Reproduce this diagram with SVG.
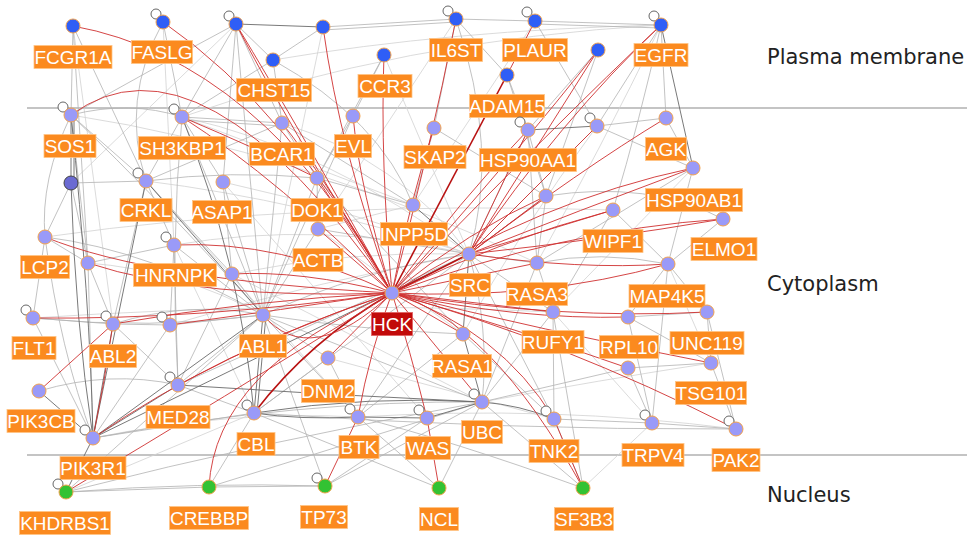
<svg xmlns="http://www.w3.org/2000/svg" width="974" height="536" viewBox="0 0 974 536">
<style>
.bg{fill:#fff}
.sep{stroke:#8a8a8a;stroke-width:1.2}
.reg{font-family:"DejaVu Sans",sans-serif;font-size:21px;fill:#222}
path{fill:none}
.g{stroke:#b2b2b2;stroke-width:0.8}
.gl{stroke:#d2d2d2;stroke-width:0.8}
.gd{stroke:#6a6a6a;stroke-width:0.9}
.r{stroke:#cf3030;stroke-width:0.9}
.rd{stroke:#b81212;stroke-width:1.6}
.lp{fill:#fff;stroke:#666;stroke-width:1}
.nb{fill:#2f5ef6;stroke:#f3a24c;stroke-width:1}
.np{fill:#9a9af8;stroke:#f3a24c;stroke-width:1}
.nd{fill:#6a6ad2;stroke:#444;stroke-width:1}
.ng{fill:#33c233;stroke:#f3a24c;stroke-width:1}
.lb{fill:#fb8a1f;stroke:#ffc485;stroke-width:0.8}
.lbh{fill:#c20a0a;stroke:#e06060;stroke-width:0.8}
.lt{font-family:"Liberation Sans",Arial,sans-serif;font-size:19px;fill:#fff;text-anchor:middle}
</style>
<rect class="bg" x="0" y="0" width="974" height="536"/>
<g id="regions">
<line class="sep" x1="27" y1="108" x2="967" y2="108"/>
<line class="sep" x1="27" y1="455" x2="967" y2="455"/>
<text class="reg" x="767" y="64">Plasma membrane</text>
<text class="reg" x="767" y="291">Cytoplasm</text>
<text class="reg" x="767" y="502">Nucleus</text>
</g>
<g id="connectors">
<path class="gl" d="M661,25 Q450,30 273,60"/>
<path class="gl" d="M661,25 Q400,40 182,117"/>
<path class="gl" d="M384,55 L469,254"/>
<path class="gl" d="M182,117 Q330,150 469,254"/>
<path class="gl" d="M282,123 Q400,160 469,254"/>
<path class="gl" d="M146,181 Q300,200 469,254"/>
<path class="gl" d="M223,182 Q350,210 469,254"/>
<path class="gl" d="M174,245 Q320,220 469,254"/>
<path class="gl" d="M232,274 Q350,250 469,254"/>
<path class="gl" d="M170,325 Q320,280 469,254"/>
<path class="gl" d="M693,168 L553,312"/>
<path class="gl" d="M661,25 Q600,150 537,263"/>
<path class="gl" d="M597,126 Q520,230 463,334"/>
<path class="gl" d="M668,264 L711,363"/>
<path class="gl" d="M553,312 L652,423"/>
<path class="gl" d="M711,363 Q600,380 482,402"/>
<path class="gl" d="M358,417 Q550,405 736,429"/>
<path class="gl" d="M93,438 Q230,410 358,417"/>
<path class="gl" d="M66,492 L254,413"/>
<path class="gl" d="M583,488 L652,423"/>
<path class="gl" d="M88,263 Q180,270 263,315"/>
<path class="gl" d="M413,205 L318,229"/>
<path class="gl" d="M33,318 Q300,300 553,312"/>
<path class="gl" d="M45,237 Q300,200 613,210"/>
<path class="gl" d="M73,26 L113,324"/>
<path class="gl" d="M163,22 L174,245"/>
<path class="gl" d="M236,24 L71,183"/>
<path class="gl" d="M323,27 L263,315"/>
<path class="gl" d="M456,19 L318,229"/>
<path class="gl" d="M535,21 L413,205"/>
<path class="gl" d="M182,117 L413,205"/>
<path class="gl" d="M71,115 Q300,150 537,263"/>
<path class="gl" d="M146,181 L358,417"/>
<path class="gl" d="M223,182 L427,418"/>
<path class="gl" d="M232,274 L482,402"/>
<path class="gl" d="M174,245 L254,413"/>
<path class="gl" d="M328,358 L554,419"/>
<path class="gl" d="M318,229 L463,334"/>
<path class="g" d="M73,26 L71,115"/>
<path class="g" d="M73,26 L146,181"/>
<path class="g" d="M73,26 L88,263"/>
<path class="g" d="M163,22 L182,117"/>
<path class="g" d="M163,22 Q120,100 146,181"/>
<path class="g" d="M236,24 L182,117"/>
<path class="g" d="M236,24 L282,123"/>
<path class="g" d="M236,24 L223,182"/>
<path class="g" d="M236,24 Q250,180 263,315"/>
<path class="g" d="M236,24 Q150,70 71,115"/>
<path class="g" d="M236,24 L273,60"/>
<path class="g" d="M323,27 L456,19"/>
<path class="g" d="M323,30 L456,22"/>
<path class="g" d="M456,19 L535,21"/>
<path class="g" d="M535,21 L661,25"/>
<path class="g" d="M535,24 L661,28"/>
<path class="g" d="M273,60 L182,117"/>
<path class="g" d="M273,60 L282,123"/>
<path class="g" d="M273,60 Q380,120 413,205"/>
<path class="g" d="M273,60 L323,27"/>
<path class="g" d="M384,55 L317,178"/>
<path class="g" d="M384,55 L353,116"/>
<path class="g" d="M456,19 L434,128"/>
<path class="g" d="M456,19 Q500,150 469,254"/>
<path class="g" d="M456,19 L507,75"/>
<path class="g" d="M535,21 L597,126"/>
<path class="g" d="M507,75 L546,196"/>
<path class="g" d="M507,75 L528,130"/>
<path class="g" d="M598,50 L528,130"/>
<path class="g" d="M598,50 L546,196"/>
<path class="g" d="M661,25 L666,118"/>
<path class="g" d="M661,25 L597,126"/>
<path class="g" d="M661,25 Q640,120 613,210"/>
<path class="g" d="M71,115 L146,181"/>
<path class="g" d="M71,115 Q130,100 182,117"/>
<path class="g" d="M71,115 Q160,200 263,315"/>
<path class="g" d="M71,115 Q40,180 45,237"/>
<path class="g" d="M71,115 L88,263"/>
<path class="g" d="M182,117 L282,123"/>
<path class="g" d="M182,120 L282,126"/>
<path class="g" d="M182,117 L146,181"/>
<path class="g" d="M182,117 L263,315"/>
<path class="g" d="M182,117 Q170,250 178,385"/>
<path class="g" d="M182,117 L223,182"/>
<path class="g" d="M282,123 L146,181"/>
<path class="g" d="M282,123 L317,178"/>
<path class="g" d="M282,123 L263,315"/>
<path class="g" d="M282,123 L413,205"/>
<path class="g" d="M353,116 L263,315"/>
<path class="g" d="M353,116 L317,178"/>
<path class="g" d="M434,128 L413,205"/>
<path class="g" d="M434,128 L546,196"/>
<path class="g" d="M528,130 L537,263"/>
<path class="g" d="M528,130 L469,254"/>
<path class="g" d="M528,130 L546,196"/>
<path class="g" d="M597,126 L469,254"/>
<path class="g" d="M597,126 L666,118"/>
<path class="g" d="M597,126 L693,168"/>
<path class="g" d="M666,118 L693,168"/>
<path class="g" d="M693,168 L668,264"/>
<path class="g" d="M546,196 Q650,180 723,219"/>
<path class="g" d="M693,168 L537,263"/>
<path class="g" d="M71,183 L45,237"/>
<path class="g" d="M71,183 L88,263"/>
<path class="g" d="M71,183 L146,181"/>
<path class="g" d="M146,181 L174,245"/>
<path class="g" d="M146,181 L113,324"/>
<path class="g" d="M146,181 L232,274"/>
<path class="g" d="M146,181 Q230,170 317,178"/>
<path class="g" d="M223,182 L263,315"/>
<path class="g" d="M223,182 L232,274"/>
<path class="g" d="M317,178 L318,229"/>
<path class="g" d="M317,178 L263,315"/>
<path class="g" d="M317,178 L413,205"/>
<path class="g" d="M317,178 L463,334"/>
<path class="g" d="M546,196 L537,263"/>
<path class="g" d="M546,196 L469,254"/>
<path class="g" d="M613,210 L668,264"/>
<path class="g" d="M613,210 L553,312"/>
<path class="g" d="M723,219 L668,264"/>
<path class="g" d="M45,237 L88,263"/>
<path class="g" d="M45,237 Q60,350 93,438"/>
<path class="g" d="M45,237 Q150,250 263,315"/>
<path class="g" d="M45,237 L33,318"/>
<path class="g" d="M88,263 L93,438"/>
<path class="g" d="M88,263 L113,324"/>
<path class="g" d="M88,263 L174,245"/>
<path class="g" d="M174,245 L263,315"/>
<path class="g" d="M174,245 L170,325"/>
<path class="g" d="M174,245 L178,385"/>
<path class="g" d="M232,274 L263,315"/>
<path class="g" d="M232,274 L178,385"/>
<path class="g" d="M318,229 L263,315"/>
<path class="g" d="M318,229 L469,254"/>
<path class="g" d="M469,254 L537,263"/>
<path class="g" d="M469,254 Q490,330 482,402"/>
<path class="g" d="M469,254 Q360,270 263,315"/>
<path class="g" d="M469,254 L553,312"/>
<path class="g" d="M469,254 L358,417"/>
<path class="g" d="M469,254 L554,419"/>
<path class="g" d="M469,254 L254,413"/>
<path class="g" d="M537,263 L553,312"/>
<path class="g" d="M537,263 Q600,250 668,264"/>
<path class="g" d="M537,263 L482,402"/>
<path class="g" d="M668,264 L628,317"/>
<path class="g" d="M668,264 L652,423"/>
<path class="g" d="M668,264 L707,312"/>
<path class="g" d="M33,318 L113,324"/>
<path class="g" d="M33,318 L93,438"/>
<path class="g" d="M33,318 Q150,330 263,315"/>
<path class="g" d="M113,324 L170,325"/>
<path class="g" d="M113,324 Q190,300 263,315"/>
<path class="g" d="M113,324 L178,385"/>
<path class="g" d="M170,325 L263,315"/>
<path class="g" d="M170,325 L93,438"/>
<path class="g" d="M263,315 L178,385"/>
<path class="g" d="M263,315 L328,358"/>
<path class="g" d="M263,315 Q360,330 463,334"/>
<path class="g" d="M263,315 L358,417"/>
<path class="g" d="M263,315 L482,402"/>
<path class="g" d="M263,315 L325,486"/>
<path class="g" d="M553,312 L482,402"/>
<path class="g" d="M553,312 L554,419"/>
<path class="g" d="M628,317 L707,312"/>
<path class="g" d="M628,317 L711,363"/>
<path class="g" d="M628,317 L652,423"/>
<path class="g" d="M707,312 L711,363"/>
<path class="g" d="M707,312 L736,429"/>
<path class="g" d="M463,334 L358,417"/>
<path class="g" d="M463,334 L554,419"/>
<path class="g" d="M328,358 L358,417"/>
<path class="g" d="M328,358 L254,413"/>
<path class="g" d="M628,368 L652,423"/>
<path class="g" d="M628,368 L482,402"/>
<path class="g" d="M711,363 L736,429"/>
<path class="g" d="M711,363 L628,368"/>
<path class="g" d="M39,391 Q110,370 178,385"/>
<path class="g" d="M178,385 L254,413"/>
<path class="g" d="M178,385 L469,254"/>
<path class="g" d="M554,419 L652,423"/>
<path class="g" d="M652,423 L736,429"/>
<path class="g" d="M254,413 Q500,430 736,429"/>
<path class="g" d="M93,438 L254,413"/>
<path class="g" d="M93,438 Q300,400 482,402"/>
<path class="g" d="M66,492 L209,487"/>
<path class="g" d="M66,492 Q200,482 325,486"/>
<path class="g" d="M66,492 Q270,440 482,402"/>
<path class="g" d="M66,492 L263,315"/>
<path class="g" d="M209,487 L254,413"/>
<path class="g" d="M209,487 L482,402"/>
<path class="g" d="M209,487 L325,486"/>
<path class="g" d="M325,486 L482,402"/>
<path class="g" d="M325,486 L427,418"/>
<path class="g" d="M439,488 L482,402"/>
<path class="g" d="M439,488 L358,417"/>
<path class="g" d="M439,488 L254,413"/>
<path class="g" d="M583,488 L554,419"/>
<path class="g" d="M583,488 L482,402"/>
<path class="g" d="M583,488 L553,312"/>
<path class="g" d="M583,488 Q450,440 358,417"/>
<path class="gd" d="M71,115 L71,183"/>
<path class="gd" d="M74,115 L74,183"/>
<path class="gd" d="M71,183 Q75,320 93,438"/>
<path class="gd" d="M71,115 Q90,300 93,438"/>
<path class="gd" d="M146,181 L263,315"/>
<path class="gd" d="M182,117 Q240,260 254,413"/>
<path class="gd" d="M263,315 L254,413"/>
<path class="gd" d="M266,315 L257,413"/>
<path class="gd" d="M113,324 L93,438"/>
<path class="gd" d="M39,391 L93,438"/>
<path class="gd" d="M93,438 L66,492"/>
<path class="gd" d="M254,413 Q300,420 358,417"/>
<path class="gd" d="M358,417 L427,418"/>
<path class="gd" d="M427,418 L482,402"/>
<path class="gd" d="M482,402 Q520,405 554,419"/>
<path class="gd" d="M469,254 L463,334"/>
<path class="gd" d="M463,334 L482,402"/>
<path class="gd" d="M236,24 L323,27"/>
<path class="gd" d="M528,130 L597,126"/>
<path class="gd" d="M661,25 L693,168"/>
<path class="gd" d="M93,438 L178,385"/>
<path class="gd" d="M93,438 L263,315"/>
<path class="gd" d="M93,438 L469,254"/>
<path class="gd" d="M178,385 Q330,395 482,402"/>
<path class="gd" d="M254,413 Q370,395 482,402"/>
<path class="gd" d="M413,205 L469,254"/>
<path class="gd" d="M146,181 L93,438"/>
<path class="r" d="M392,293 Q260,60 73,26"/>
<path class="r" d="M392,293 Q290,110 163,22"/>
<path class="r" d="M392,293 Q300,130 236,24"/>
<path class="r" d="M392,293 Q280,110 236,24"/>
<path class="r" d="M392,293 Q340,150 323,27"/>
<path class="r" d="M392,293 Q380,160 384,55"/>
<path class="r" d="M392,293 Q430,150 456,19"/>
<path class="rd" d="M392,293 L507,75"/>
<path class="r" d="M507,75 L535,21"/>
<path class="r" d="M392,293 Q520,150 598,50"/>
<path class="r" d="M392,293 Q560,120 661,25"/>
<path class="r" d="M392,293 Q200,20 71,115"/>
<path class="r" d="M392,293 Q280,180 182,117"/>
<path class="r" d="M392,293 Q320,170 282,123"/>
<path class="r" d="M392,293 Q360,190 353,116"/>
<path class="r" d="M392,293 L317,178"/>
<path class="r" d="M392,293 L318,229"/>
<path class="r" d="M392,293 Q410,200 434,128"/>
<path class="r" d="M392,293 Q460,200 528,130"/>
<path class="rd" d="M392,293 L469,254"/>
<path class="r" d="M392,293 Q470,230 546,196"/>
<path class="r" d="M392,293 Q500,240 613,210"/>
<path class="r" d="M392,293 Q540,200 693,168"/>
<path class="r" d="M392,293 Q560,230 723,219"/>
<path class="r" d="M392,293 L537,263"/>
<path class="r" d="M392,293 Q540,300 668,264"/>
<path class="r" d="M392,293 L553,312"/>
<path class="r" d="M392,293 Q520,320 628,317"/>
<path class="r" d="M392,293 Q560,320 707,312"/>
<path class="r" d="M392,293 Q540,330 711,363"/>
<path class="r" d="M392,293 Q560,340 736,429"/>
<path class="r" d="M392,293 Q520,330 628,368"/>
<path class="r" d="M392,293 Q500,330 554,419"/>
<path class="r" d="M392,293 Q490,320 583,488"/>
<path class="r" d="M392,293 L463,334"/>
<path class="r" d="M392,293 L482,402"/>
<path class="r" d="M392,293 Q410,350 427,418"/>
<path class="r" d="M392,293 Q370,350 358,417"/>
<path class="r" d="M392,293 L328,358"/>
<path class="rd" d="M392,293 Q310,340 254,413"/>
<path class="r" d="M392,293 Q280,330 178,385"/>
<path class="r" d="M392,293 Q220,350 93,438"/>
<path class="r" d="M392,293 Q220,400 66,492"/>
<path class="r" d="M392,293 Q215,370 209,487"/>
<path class="r" d="M392,293 Q310,370 263,315"/>
<path class="r" d="M392,293 Q300,270 232,274"/>
<path class="r" d="M392,293 Q280,240 174,245"/>
<path class="r" d="M392,293 Q200,300 88,263"/>
<path class="r" d="M392,293 Q150,280 45,237"/>
<path class="r" d="M392,293 Q200,320 33,318"/>
<path class="r" d="M392,293 Q250,300 113,324"/>
<path class="r" d="M392,293 Q280,310 170,325"/>
<path class="r" d="M427,418 L439,488"/>
<path class="r" d="M358,417 L325,486"/>
<path class="r" d="M554,419 L583,488"/>
<path class="r" d="M469,254 L613,210"/>
<path class="r" d="M469,254 Q580,210 693,168"/>
<path class="r" d="M469,254 Q580,170 666,118"/>
<path class="r" d="M469,254 L597,126"/>
<path class="r" d="M469,254 Q560,120 661,25"/>
<path class="r" d="M469,254 L528,130"/>
<path class="r" d="M469,254 L598,50"/>
<path class="r" d="M469,254 L546,196"/>
<path class="r" d="M469,254 Q600,240 723,219"/>
<path class="r" d="M469,254 Q580,270 668,264"/>
<path class="r" d="M182,117 Q260,150 317,178"/>
<path class="r" d="M39,391 L113,324"/>
<path class="r" d="M93,438 Q105,380 113,324"/>
</g>
<g id="n-FCGR1A"><circle class="nb" cx="73" cy="26" r="7"/><rect class="lb" x="34" y="45.5" width="78" height="23"/><text class="lt" x="73" y="64">FCGR1A</text></g>
<g id="n-FASLG"><circle class="lp" cx="156" cy="14" r="5"/><circle class="nb" cx="163" cy="22" r="7"/><rect class="lb" x="131.5" y="40.5" width="61" height="23"/><text class="lt" x="162" y="59">FASLG</text></g>
<g id="n-u1"><circle class="lp" cx="229" cy="16" r="5"/><circle class="nb" cx="236" cy="24" r="7"/></g>
<g id="n-u2"><circle class="nb" cx="323" cy="27" r="7"/></g>
<g id="n-CHST15"><circle class="nb" cx="273" cy="60" r="7"/><rect class="lb" x="236.5" y="78.5" width="75" height="23"/><text class="lt" x="274" y="97">CHST15</text></g>
<g id="n-CCR3"><circle class="nb" cx="384" cy="55" r="7"/><rect class="lb" x="358" y="74.5" width="54" height="23"/><text class="lt" x="385" y="93">CCR3</text></g>
<g id="n-IL6ST"><circle class="lp" cx="448" cy="11" r="5"/><circle class="nb" cx="456" cy="19" r="7"/><rect class="lb" x="429.5" y="38.5" width="53" height="23"/><text class="lt" x="456" y="57">IL6ST</text></g>
<g id="n-PLAUR"><circle class="lp" cx="527" cy="12" r="5"/><circle class="nb" cx="535" cy="21" r="7"/><rect class="lb" x="502.5" y="38.5" width="65" height="23"/><text class="lt" x="535" y="57">PLAUR</text></g>
<g id="n-ADAM15"><circle class="nb" cx="507" cy="75" r="7"/><rect class="lb" x="469.5" y="94.5" width="75" height="23"/><text class="lt" x="507" y="113">ADAM15</text></g>
<g id="n-u3"><circle class="nb" cx="598" cy="50" r="7"/></g>
<g id="n-EGFR"><circle class="lp" cx="654" cy="16" r="5"/><circle class="nb" cx="661" cy="25" r="7"/><rect class="lb" x="634" y="43.5" width="54" height="23"/><text class="lt" x="661" y="62">EGFR</text></g>
<g id="n-SOS1"><circle class="lp" cx="63" cy="107" r="5"/><circle class="np" cx="71" cy="115" r="7"/><rect class="lb" x="44" y="134.5" width="52" height="23"/><text class="lt" x="70" y="153">SOS1</text></g>
<g id="n-SH3KBP1"><circle class="lp" cx="174" cy="109" r="5"/><circle class="np" cx="182" cy="117" r="7"/><rect class="lb" x="138.5" y="136.5" width="87" height="23"/><text class="lt" x="182" y="155">SH3KBP1</text></g>
<g id="n-BCAR1"><circle class="np" cx="282" cy="123" r="7"/><rect class="lb" x="249.5" y="142.5" width="65" height="23"/><text class="lt" x="282" y="161">BCAR1</text></g>
<g id="n-EVL"><circle class="np" cx="353" cy="116" r="7"/><rect class="lb" x="334.5" y="134.5" width="37" height="23"/><text class="lt" x="353" y="153">EVL</text></g>
<g id="n-SKAP2"><circle class="np" cx="434" cy="128" r="7"/><rect class="lb" x="404" y="145.5" width="62" height="23"/><text class="lt" x="435" y="164">SKAP2</text></g>
<g id="n-HSP90AA1"><circle class="lp" cx="520" cy="122" r="5"/><circle class="np" cx="528" cy="130" r="7"/><rect class="lb" x="479.5" y="148.5" width="97" height="23"/><text class="lt" x="528" y="167">HSP90AA1</text></g>
<g id="n-u4"><circle class="lp" cx="590" cy="118" r="5"/><circle class="np" cx="597" cy="126" r="7"/></g>
<g id="n-AGK"><circle class="np" cx="666" cy="118" r="7"/><rect class="lb" x="645.5" y="137.5" width="41" height="23"/><text class="lt" x="666" y="156">AGK</text></g>
<g id="n-HSP90AB1"><circle class="np" cx="693" cy="168" r="7"/><rect class="lb" x="645.5" y="188.5" width="97" height="23"/><text class="lt" x="694" y="207">HSP90AB1</text></g>
<g id="n-u5"><circle class="nd" cx="71" cy="183" r="7"/></g>
<g id="n-CRKL"><circle class="lp" cx="138" cy="173" r="5"/><circle class="np" cx="146" cy="181" r="7"/><rect class="lb" x="120" y="198.5" width="52" height="23"/><text class="lt" x="146" y="217">CRKL</text></g>
<g id="n-ASAP1"><circle class="np" cx="223" cy="182" r="7"/><rect class="lb" x="192.5" y="200.5" width="59" height="23"/><text class="lt" x="222" y="219">ASAP1</text></g>
<g id="n-DOK1"><circle class="np" cx="317" cy="178" r="7"/><rect class="lb" x="291" y="198.5" width="52" height="23"/><text class="lt" x="317" y="217">DOK1</text></g>
<g id="n-INPP5D"><circle class="np" cx="413" cy="205" r="7"/><rect class="lb" x="380.5" y="222.5" width="67" height="23"/><text class="lt" x="414" y="241">INPP5D</text></g>
<g id="n-u6"><circle class="np" cx="546" cy="196" r="7"/></g>
<g id="n-WIPF1"><circle class="np" cx="613" cy="210" r="7"/><rect class="lb" x="583" y="229.5" width="60" height="23"/><text class="lt" x="613" y="248">WIPF1</text></g>
<g id="n-ELMO1"><circle class="np" cx="723" cy="219" r="7"/><rect class="lb" x="691" y="237.5" width="66" height="23"/><text class="lt" x="724" y="256">ELMO1</text></g>
<g id="n-LCP2"><circle class="np" cx="45" cy="237" r="7"/><rect class="lb" x="20.5" y="255.5" width="49" height="23"/><text class="lt" x="45" y="274">LCP2</text></g>
<g id="n-u7"><circle class="np" cx="88" cy="263" r="7"/></g>
<g id="n-HNRNPK"><circle class="lp" cx="166" cy="237" r="5"/><circle class="np" cx="174" cy="245" r="7"/><rect class="lb" x="133.5" y="263.5" width="83" height="23"/><text class="lt" x="175" y="282">HNRNPK</text></g>
<g id="n-u8"><circle class="np" cx="232" cy="274" r="7"/></g>
<g id="n-ACTB"><circle class="np" cx="318" cy="229" r="7"/><rect class="lb" x="293" y="248.5" width="50" height="23"/><text class="lt" x="318" y="267">ACTB</text></g>
<g id="n-SRC"><circle class="np" cx="469" cy="254" r="7"/><rect class="lb" x="449.5" y="273.5" width="41" height="23"/><text class="lt" x="470" y="292">SRC</text></g>
<g id="n-RASA3"><circle class="np" cx="537" cy="263" r="7"/><rect class="lb" x="506.5" y="282.5" width="61" height="23"/><text class="lt" x="537" y="301">RASA3</text></g>
<g id="n-MAP4K5"><circle class="np" cx="668" cy="264" r="7"/><rect class="lb" x="629" y="284.5" width="76" height="23"/><text class="lt" x="667" y="303">MAP4K5</text></g>
<g id="n-FLT1"><circle class="lp" cx="26" cy="310" r="5"/><circle class="np" cx="33" cy="318" r="7"/><rect class="lb" x="12" y="336.5" width="44" height="23"/><text class="lt" x="34" y="355">FLT1</text></g>
<g id="n-ABL2"><circle class="lp" cx="106" cy="316" r="5"/><circle class="np" cx="113" cy="324" r="7"/><rect class="lb" x="89.5" y="344.5" width="47" height="23"/><text class="lt" x="113" y="363">ABL2</text></g>
<g id="n-u9"><circle class="lp" cx="162" cy="317" r="5"/><circle class="np" cx="170" cy="325" r="7"/></g>
<g id="n-ABL1"><circle class="np" cx="263" cy="315" r="7"/><rect class="lb" x="239.5" y="334.5" width="47" height="23"/><text class="lt" x="263" y="353">ABL1</text></g>
<g id="n-RUFY1"><circle class="np" cx="553" cy="312" r="7"/><rect class="lb" x="522" y="330.5" width="62" height="23"/><text class="lt" x="553" y="349">RUFY1</text></g>
<g id="n-RPL10"><circle class="np" cx="628" cy="317" r="7"/><rect class="lb" x="599.5" y="335.5" width="59" height="23"/><text class="lt" x="629" y="354">RPL10</text></g>
<g id="n-UNC119"><circle class="np" cx="707" cy="312" r="7"/><rect class="lb" x="670" y="331.5" width="74" height="23"/><text class="lt" x="707" y="350">UNC119</text></g>
<g id="n-RASA1"><circle class="np" cx="463" cy="334" r="7"/><rect class="lb" x="432.5" y="354.5" width="59" height="23"/><text class="lt" x="462" y="373">RASA1</text></g>
<g id="n-DNM2"><circle class="np" cx="328" cy="358" r="7"/><rect class="lb" x="301.5" y="379.5" width="53" height="23"/><text class="lt" x="328" y="398">DNM2</text></g>
<g id="n-u10"><circle class="np" cx="628" cy="368" r="7"/></g>
<g id="n-TSG101"><circle class="np" cx="711" cy="363" r="7"/><rect class="lb" x="675.5" y="381.5" width="71" height="23"/><text class="lt" x="711" y="400">TSG101</text></g>
<g id="n-PIK3CB"><circle class="np" cx="39" cy="391" r="7"/><rect class="lb" x="7" y="409.5" width="68" height="23"/><text class="lt" x="41" y="428">PIK3CB</text></g>
<g id="n-MED28"><circle class="lp" cx="170" cy="377" r="5"/><circle class="np" cx="178" cy="385" r="7"/><rect class="lb" x="146" y="405.5" width="64" height="23"/><text class="lt" x="178" y="424">MED28</text></g>
<g id="n-CBL"><circle class="lp" cx="247" cy="405" r="5"/><circle class="np" cx="254" cy="413" r="7"/><rect class="lb" x="237" y="432.5" width="38" height="23"/><text class="lt" x="256" y="451">CBL</text></g>
<g id="n-BTK"><circle class="lp" cx="350" cy="409" r="5"/><circle class="np" cx="358" cy="417" r="7"/><rect class="lb" x="339" y="435.5" width="40" height="23"/><text class="lt" x="359" y="454">BTK</text></g>
<g id="n-WAS"><circle class="lp" cx="419" cy="410" r="5"/><circle class="np" cx="427" cy="418" r="7"/><rect class="lb" x="405.5" y="436.5" width="45" height="23"/><text class="lt" x="428" y="455">WAS</text></g>
<g id="n-UBC"><circle class="lp" cx="474" cy="394" r="5"/><circle class="np" cx="482" cy="402" r="7"/><rect class="lb" x="461.5" y="420.5" width="41" height="23"/><text class="lt" x="482" y="439">UBC</text></g>
<g id="n-TNK2"><circle class="lp" cx="546" cy="411" r="5"/><circle class="np" cx="554" cy="419" r="7"/><rect class="lb" x="529" y="439.5" width="50" height="23"/><text class="lt" x="554" y="458">TNK2</text></g>
<g id="n-TRPV4"><circle class="lp" cx="645" cy="415" r="5"/><circle class="np" cx="652" cy="423" r="7"/><rect class="lb" x="622" y="443.5" width="62" height="23"/><text class="lt" x="653" y="462">TRPV4</text></g>
<g id="n-PAK2"><circle class="lp" cx="729" cy="421" r="5"/><circle class="np" cx="736" cy="429" r="7"/><rect class="lb" x="712" y="448.5" width="48" height="23"/><text class="lt" x="736" y="467">PAK2</text></g>
<g id="n-PIK3R1"><circle class="lp" cx="85" cy="430" r="5"/><circle class="np" cx="93" cy="438" r="7"/><rect class="lb" x="60" y="456.5" width="66" height="23"/><text class="lt" x="93" y="475">PIK3R1</text></g>
<g id="n-KHDRBS1"><circle class="lp" cx="58" cy="484" r="5"/><circle class="ng" cx="66" cy="492" r="7"/><rect class="lb" x="19.5" y="511.5" width="91" height="23"/><text class="lt" x="65" y="530">KHDRBS1</text></g>
<g id="n-CREBBP"><circle class="ng" cx="209" cy="487" r="7"/><rect class="lb" x="169.5" y="506.5" width="79" height="23"/><text class="lt" x="209" y="525">CREBBP</text></g>
<g id="n-TP73"><circle class="lp" cx="317" cy="478" r="5"/><circle class="ng" cx="325" cy="486" r="7"/><rect class="lb" x="300.5" y="505.5" width="47" height="23"/><text class="lt" x="324" y="524">TP73</text></g>
<g id="n-NCL"><circle class="ng" cx="439" cy="488" r="7"/><rect class="lb" x="419.5" y="507.5" width="39" height="23"/><text class="lt" x="439" y="526">NCL</text></g>
<g id="n-SF3B3"><circle class="ng" cx="583" cy="488" r="7"/><rect class="lb" x="554.5" y="507.5" width="59" height="23"/><text class="lt" x="584" y="526">SF3B3</text></g>
<g id="n-HCK"><circle class="np" cx="392" cy="293" r="7"/><rect class="lbh" x="371.5" y="312.5" width="41" height="23"/><text class="lt" x="392" y="331">HCK</text></g>
</svg>
